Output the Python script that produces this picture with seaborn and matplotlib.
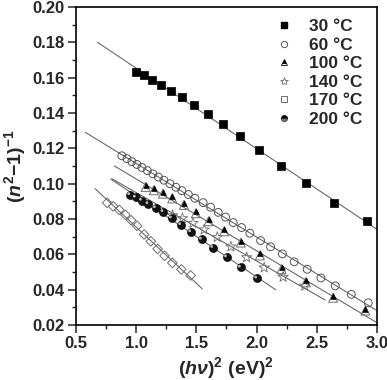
import numpy as np
import matplotlib
matplotlib.use("Agg")
import matplotlib.pyplot as plt
import seaborn as sns
from matplotlib.markers import MarkerStyle
from matplotlib.transforms import Affine2D
from matplotlib.lines import Line2D
from matplotlib.ticker import MultipleLocator, FormatStrFormatter

# ----------------------------------------------------------------------
# data: x = (h nu)^2 (eV^2), y = (n^2-1)^-1
# ----------------------------------------------------------------------
x_30 = [1.001, 1.065, 1.134, 1.206, 1.289, 1.380, 1.483, 1.594, 1.718, 1.860,
        2.020, 2.200, 2.408, 2.643, 2.917]
y_30 = [0.1634, 0.1615, 0.1588, 0.1560, 0.1526, 0.1489, 0.1444, 0.1394, 0.1336,
        0.1268, 0.1189, 0.1100, 0.1001, 0.0891, 0.0787]

x_60 = [0.882, 0.924, 0.965, 1.007, 1.048, 1.094, 1.140, 1.185, 1.231, 1.281,
        1.331, 1.380, 1.434, 1.488, 1.557, 1.619, 1.682, 1.743, 1.807, 1.876,
        1.945, 2.034, 2.117, 2.215, 2.313, 2.421, 2.535, 2.654, 2.787, 2.928]
y_60 = [0.1157, 0.1141, 0.1124, 0.1108, 0.1091, 0.1073, 0.1055, 0.1037, 0.1019,
        0.0999, 0.0979, 0.0960, 0.0938, 0.0917, 0.0892, 0.0866, 0.0837, 0.0810,
        0.0779, 0.0751, 0.0719, 0.0677, 0.0642, 0.0602, 0.0557, 0.0515, 0.0466,
        0.0421, 0.0373, 0.0325]

x_100 = [1.079, 1.148, 1.223, 1.300, 1.397, 1.497, 1.602, 1.732, 1.870, 2.028,
         2.208, 2.409, 2.636, 2.904]
y_100 = [0.0981, 0.0962, 0.0943, 0.0916, 0.0879, 0.0832, 0.0787, 0.0730, 0.0666,
         0.0593, 0.0515, 0.0441, 0.0354, 0.0281]

x_140 = [1.303, 1.385, 1.472, 1.565, 1.674, 1.787, 1.918, 2.064, 2.221, 2.400]
y_140 = [0.0820, 0.0803, 0.0776, 0.0739, 0.0696, 0.0643, 0.0582, 0.0524, 0.0471,
         0.0421]

x_170 = [0.760, 0.810, 0.860, 0.911, 0.959, 1.009, 1.067, 1.123, 1.179, 1.237,
         1.301, 1.376, 1.453]
y_170 = [0.0891, 0.0871, 0.0851, 0.0823, 0.0792, 0.0760, 0.0712, 0.0673, 0.0630,
         0.0591, 0.0551, 0.0514, 0.0480]

x_200 = [0.949, 0.996, 1.046, 1.100, 1.162, 1.225, 1.295, 1.372, 1.455, 1.544,
         1.638, 1.752, 1.868, 2.003]
y_200 = [0.0936, 0.0922, 0.0904, 0.0885, 0.0862, 0.0840, 0.0804, 0.0766, 0.0726,
         0.0684, 0.0637, 0.0584, 0.0525, 0.0464]

labels = ["30 °C", "60 °C", "100 °C", "140 °C", "170 °C", "200 °C"]
# x-range over which each linear fit line is drawn
fit_range = [(0.68, 3.05), (0.58, 3.05), (0.82, 3.05), (0.80, 2.57),
             (0.66, 1.55), (0.79, 2.16)]

# ----------------------------------------------------------------------
sns.set_style("ticks")
plt.rcParams["font.family"] = ["Liberation Sans", "DejaVu Sans"]
plt.rcParams["font.weight"] = "bold"
plt.rcParams["mathtext.fontset"] = "custom"
plt.rcParams["mathtext.rm"] = "Liberation Sans:bold"
plt.rcParams["mathtext.bf"] = "Liberation Sans:bold"
plt.rcParams["mathtext.it"] = "Liberation Sans:bold:italic"

fig, ax = plt.subplots(figsize=(3.87, 3.80), dpi=100)
fig.subplots_adjust(left=0.196, right=0.974, top=0.982, bottom=0.145)

xs_all = [x_30, x_60, x_100, x_140, x_170, x_200]
ys_all = [y_30, y_60, y_100, y_140, y_170, y_200]

# fit lines first so markers sit on top
for xs, ys, (x0, x1) in zip(xs_all, ys_all, fit_range):
    k, b = np.polyfit(xs, ys, 1)
    lx = np.array([x0, x1])
    sns.lineplot(x=lx, y=k * lx + b, color="#6a6a6a", lw=0.8, ax=ax)

gray = "#6e6e6e"
# 30 C : filled squares
sns.scatterplot(x=x_30, y=y_30, marker="s", s=26, color="black",
                edgecolor="black", linewidth=0.5, ax=ax, zorder=3)
# 60 C : open circles
sns.scatterplot(x=x_60, y=y_60, marker="o", s=32, facecolor="none",
                edgecolor="#555555", linewidth=0.7, ax=ax, zorder=3)
# 100 C : open triangle with a filled top
sns.scatterplot(x=x_100, y=y_100, marker="^", s=42, facecolor="none",
                edgecolor=gray, linewidth=0.7, ax=ax, zorder=3)
sns.scatterplot(x=x_100, y=y_100, marker=MarkerStyle("^", fillstyle="top"),
                s=42, color="black", edgecolor="black", linewidth=0.5,
                ax=ax, zorder=4)
# 140 C : open stars
sns.scatterplot(x=x_140, y=y_140, marker="*", s=62, facecolor="none",
                edgecolor=gray, linewidth=0.6, ax=ax, zorder=3)
# 170 C : open squares (look like diamonds along the steep line)
sns.scatterplot(x=x_170, y=y_170, marker="D", s=24, facecolor="none",
                edgecolor=gray, linewidth=0.7, ax=ax, zorder=3)
# 200 C : shaded spheres
sns.scatterplot(x=x_200, y=y_200, marker="o", s=34, color="#111111",
                edgecolor="black", linewidth=0.4, ax=ax, zorder=3)
hl = MarkerStyle("o", transform=Affine2D().scale(0.35).translate(-0.15, 0.15))
sns.scatterplot(x=x_200, y=y_200, marker=hl, s=34, color="#bbbbbb",
                edgecolor="none", linewidth=0, ax=ax, zorder=4)

ax.set_xlim(0.5, 3.0)
ax.set_ylim(0.02, 0.20)
ax.xaxis.set_major_locator(MultipleLocator(0.5))
ax.xaxis.set_minor_locator(MultipleLocator(0.25))
ax.yaxis.set_major_locator(MultipleLocator(0.02))
ax.yaxis.set_minor_locator(MultipleLocator(0.01))
ax.xaxis.set_major_formatter(FormatStrFormatter("%.1f"))
ax.yaxis.set_major_formatter(FormatStrFormatter("%.2f"))
ax.tick_params(which="major", direction="out", length=5.5, width=1.1,
               labelsize=12, top=False, right=False, pad=2.5)
ax.tick_params(which="minor", direction="out", length=3, width=1.0,
               top=False, right=False)
for sp in ax.spines.values():
    sp.set_linewidth(1.2)
    sp.set_color("black")

ax.set_xlabel(r"$(h\nu)^{2}\ \mathrm{(eV)}^{2}$", fontsize=14, labelpad=3)
ax.set_ylabel(r"$(n^{2}\mathrm{-1)}^{-1}$", fontsize=14, labelpad=3)

handles = [
    Line2D([], [], ls="", marker="s", ms=4.5, color="black"),
    Line2D([], [], ls="", marker="o", ms=4.5, mfc="none", mec="#555555", mew=0.7),
    Line2D([], [], ls="", marker="^", ms=5, fillstyle="top", color="black",
           mfcalt="white", mec="black", mew=0.6),
    Line2D([], [], ls="", marker="*", ms=6, mfc="none", mec=gray, mew=0.6),
    Line2D([], [], ls="", marker="s", ms=4.5, mfc="none", mec=gray, mew=0.7),
    Line2D([], [], ls="", marker="o", ms=4.5, fillstyle="top", color="black",
           mfcalt="#777777", mec="black", mew=0.4),
]
ax.legend(handles, labels, loc="upper right", frameon=False, fontsize=12.5,
          handlelength=1.0, handletextpad=0.9, labelspacing=0.2,
          bbox_to_anchor=(0.985, 0.995), borderaxespad=0.2)

fig.savefig("out.png", dpi=100)
